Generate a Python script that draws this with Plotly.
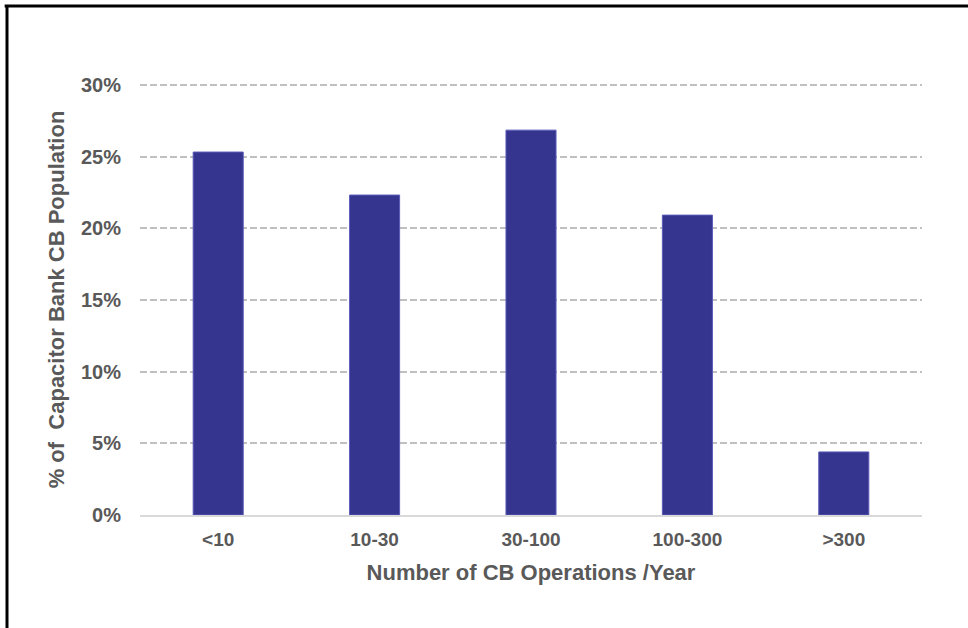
import plotly.graph_objects as go

# Share of capacitor bank circuit breakers by yearly operation count
categories = ["<10", "10-30", "30-100", "100-300", ">300"]
share_pct = [25.33, 22.33, 26.86, 20.93, 4.4]
y_ticks = [0, 5, 10, 15, 20, 25, 30]
y_tick_labels = [f"{v}%" for v in y_ticks]

FONT = "Liberation Sans, Arial, sans-serif"
GRAY = "#595959"

W, H = 968, 628
ML, MR, MT, MB = 140, 46, 84, 113
PW, PH = W - ML - MR, H - MT - MB

fig = go.Figure(
    go.Bar(
        x=categories,
        y=share_pct,
        marker=dict(color="#35348f", line=dict(color="#5a5ab8", width=1)),
        width=0.32,
        hoverinfo="x+y",
    )
)

# frame along the left and top edges of the page
frame_x = (7 - ML) / PW
frame_y = (H - 6 - MB) / PH

fig.update_layout(
    width=W,
    height=H,
    margin=dict(l=ML, r=MR, t=MT, b=MB),
    paper_bgcolor="white",
    plot_bgcolor="white",
    showlegend=False,
    font=dict(family=FONT, color=GRAY),
    xaxis=dict(
        title=dict(text="<b>Number of CB Operations /Year</b>",
                   font=dict(size=22, color=GRAY), standoff=16),
        tickfont=dict(size=19, color=GRAY),
        tickprefix="<b>", ticksuffix="</b>",
        showgrid=False,
        showline=True,
        linecolor="#d9d9d9",
        linewidth=2,
        ticks="",
        ticklabelstandoff=6,
    ),
    yaxis=dict(
        title=dict(text="<b>% of  Capacitor Bank CB Population</b>",
                   font=dict(size=22, color=GRAY), standoff=10),
        range=[0, 30.08],
        tickvals=y_ticks,
        ticktext=[f"<b>{t}</b>" for t in y_tick_labels],
        tickfont=dict(size=20, color=GRAY),
        showgrid=True,
        gridcolor="#c0c0c0",
        griddash="7px,3px",
        gridwidth=1.5,
        zeroline=False,
        showline=False,
        ticks="",
        ticklabelstandoff=18,
    ),
    shapes=[
        dict(type="line", xref="paper", yref="paper",
             x0=frame_x, x1=frame_x, y0=-0.5, y1=frame_y,
             line=dict(color="black", width=3)),
        dict(type="line", xref="paper", yref="paper",
             x0=frame_x - 0.003, x1=1.2, y0=frame_y, y1=frame_y,
             line=dict(color="black", width=3)),
    ],
)

fig.write_html("out.html")
